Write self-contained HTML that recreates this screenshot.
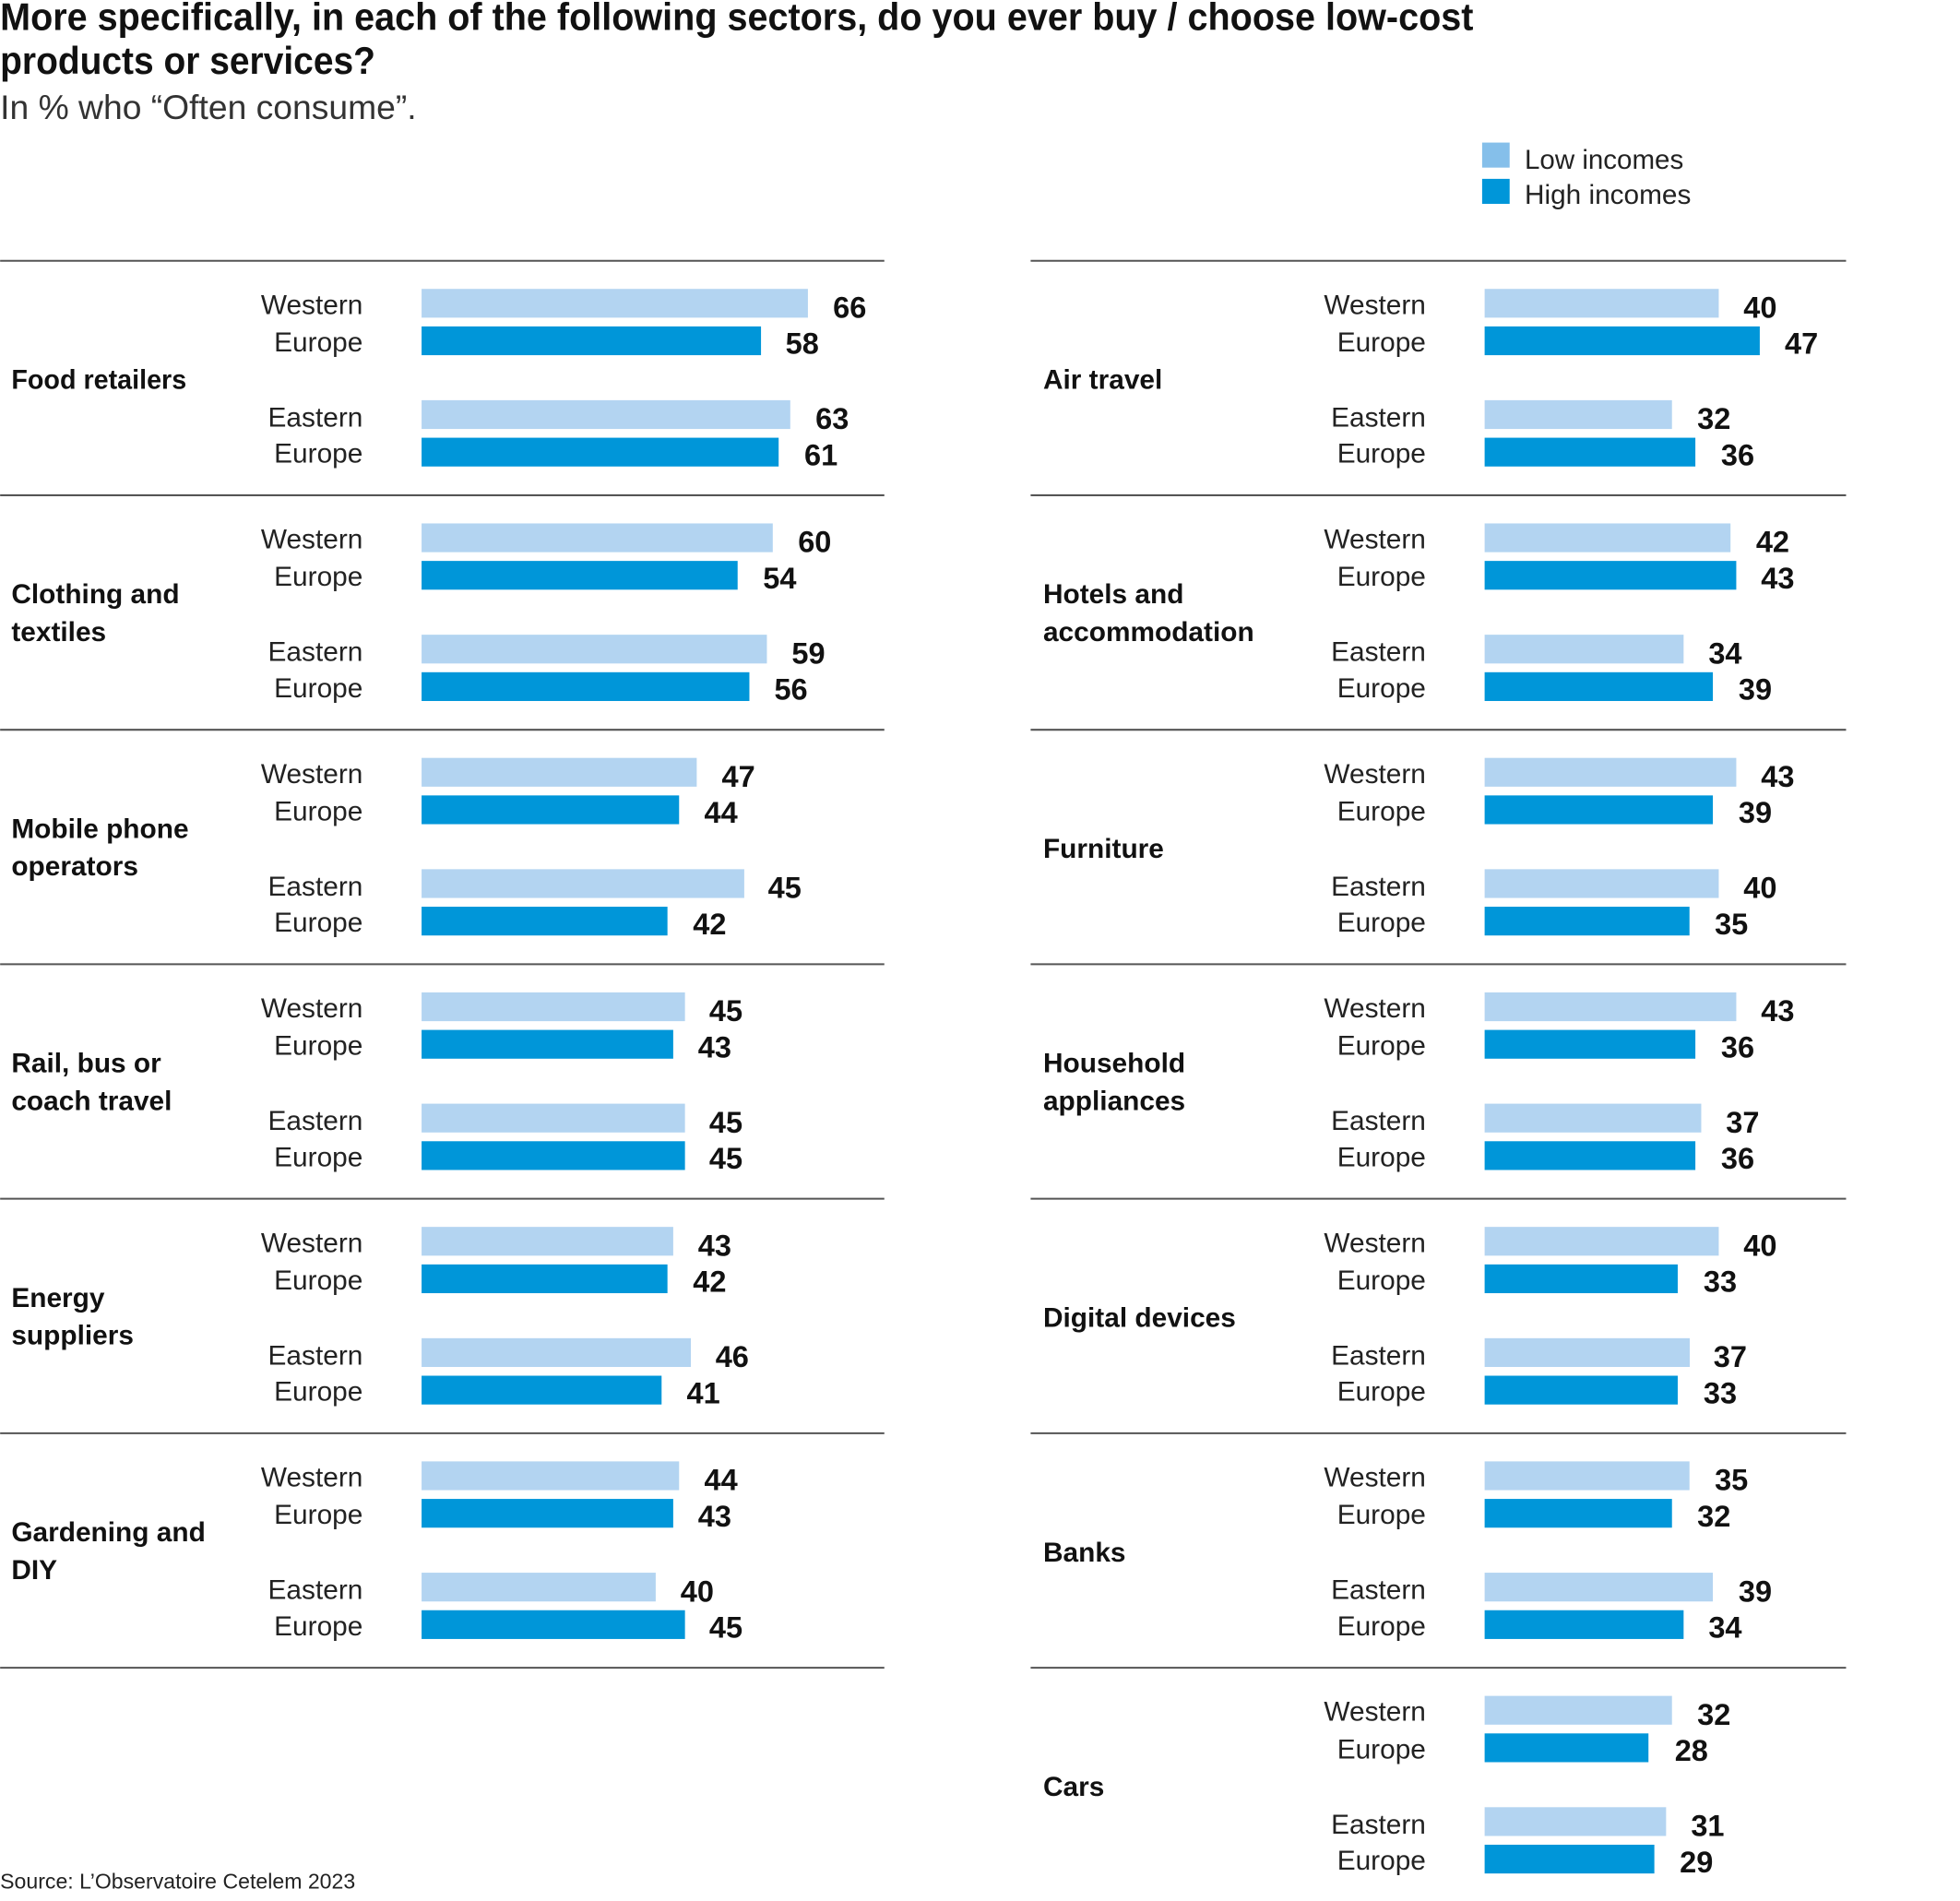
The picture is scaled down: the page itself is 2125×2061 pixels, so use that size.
<!DOCTYPE html>
<html><head><meta charset="utf-8"><style>
html,body{margin:0;padding:0;background:#fff;}
svg{display:block;}
text{font-family:"Liberation Sans Narrow","Liberation Sans",sans-serif;}
.l{font-size:22px;fill:#222;text-anchor:end;}
.v{font-size:24px;font-weight:bold;fill:#111;}
.c{font-size:22px;font-weight:bold;fill:#111;}
.a{fill:#b3d4f1;}.b{fill:#0096d9;}
.ln{stroke:#555;stroke-width:1.5;}
</style></head><body>
<svg width="2125" height="2061" viewBox="0 0 1567 1520" xmlns="http://www.w3.org/2000/svg">
<text x="0" y="24" font-size="31" font-weight="bold" fill="#111" textLength="1178" lengthAdjust="spacingAndGlyphs">More specifically, in each of the following sectors, do you ever buy / choose low-cost</text>
<text x="0" y="59" font-size="31" font-weight="bold" fill="#111" textLength="300" lengthAdjust="spacingAndGlyphs">products or services?</text>
<text x="0" y="95" font-size="27" fill="#333" textLength="333" lengthAdjust="spacingAndGlyphs">In % who “Often consume”.</text>
<rect x="1185" y="114" width="22" height="20" fill="#85bfea"/>
<rect x="1185" y="143" width="22" height="20" fill="#0096d9"/>
<text x="1219" y="135" font-size="22" fill="#222" textLength="127" lengthAdjust="spacingAndGlyphs">Low incomes</text>
<text x="1219" y="163" font-size="22" fill="#222" textLength="133" lengthAdjust="spacingAndGlyphs">High incomes</text>
<text x="0" y="1510" font-size="17" fill="#222" textLength="284" lengthAdjust="spacingAndGlyphs">Source: L’Observatoire Cetelem 2023</text>

<g class="ln">
<line x1="0" x2="707" y1="208.5" y2="208.5"/><line x1="0" x2="707" y1="396" y2="396"/><line x1="0" x2="707" y1="583.5" y2="583.5"/><line x1="0" x2="707" y1="771" y2="771"/><line x1="0" x2="707" y1="958.5" y2="958.5"/><line x1="0" x2="707" y1="1146" y2="1146"/><line x1="0" x2="707" y1="1333.5" y2="1333.5"/>
<line x1="824" x2="1476" y1="208.5" y2="208.5"/><line x1="824" x2="1476" y1="396" y2="396"/><line x1="824" x2="1476" y1="583.5" y2="583.5"/><line x1="824" x2="1476" y1="771" y2="771"/><line x1="824" x2="1476" y1="958.5" y2="958.5"/><line x1="824" x2="1476" y1="1146" y2="1146"/><line x1="824" x2="1476" y1="1333.5" y2="1333.5"/><line x1="824" x2="1476" y1="1521" y2="1521"/>
</g>

<g transform="translate(0,0)">
<text class="c" x="9" y="311" textLength="140" lengthAdjust="spacingAndGlyphs">Food retailers</text>
<text class="l" x="290" y="251">Western</text><text class="l" x="290" y="281">Europe</text><text class="l" x="290" y="341">Eastern</text><text class="l" x="290" y="370">Europe</text>
<rect class="a" x="337" y="231" width="308.9" height="23"/><rect class="b" x="337" y="261" width="271.4" height="23"/><rect class="a" x="337" y="320" width="294.8" height="23"/><rect class="b" x="337" y="350" width="285.5" height="23"/>
<text class="v" x="666" y="254">66</text><text class="v" x="628" y="283">58</text><text class="v" x="652" y="343">63</text><text class="v" x="643" y="372">61</text>
</g>
<g transform="translate(0,187.5)">
<text class="c" x="9" y="295">Clothing and</text><text class="c" x="9" y="325">textiles</text>
<text class="l" x="290" y="251">Western</text><text class="l" x="290" y="281">Europe</text><text class="l" x="290" y="341">Eastern</text><text class="l" x="290" y="370">Europe</text>
<rect class="a" x="337" y="231" width="280.8" height="23"/><rect class="b" x="337" y="261" width="252.7" height="23"/><rect class="a" x="337" y="320" width="276.1" height="23"/><rect class="b" x="337" y="350" width="262.1" height="23"/>
<text class="v" x="638" y="254">60</text><text class="v" x="610" y="283">54</text><text class="v" x="633" y="343">59</text><text class="v" x="619" y="372">56</text>
</g>
<g transform="translate(0,375)">
<text class="c" x="9" y="295">Mobile phone</text><text class="c" x="9" y="325">operators</text>
<text class="l" x="290" y="251">Western</text><text class="l" x="290" y="281">Europe</text><text class="l" x="290" y="341">Eastern</text><text class="l" x="290" y="370">Europe</text>
<rect class="a" x="337" y="231" width="220" height="23"/><rect class="b" x="337" y="261" width="205.9" height="23"/><rect class="a" x="337" y="320" width="258" height="23"/><rect class="b" x="337" y="350" width="196.6" height="23"/>
<text class="v" x="577" y="254">47</text><text class="v" x="563" y="283">44</text><text class="v" x="614" y="343">45</text><text class="v" x="554" y="372">42</text>
</g>
<g transform="translate(0,562.5)">
<text class="c" x="9" y="295">Rail, bus or</text><text class="c" x="9" y="325">coach travel</text>
<text class="l" x="290" y="251">Western</text><text class="l" x="290" y="281">Europe</text><text class="l" x="290" y="341">Eastern</text><text class="l" x="290" y="370">Europe</text>
<rect class="a" x="337" y="231" width="210.6" height="23"/><rect class="b" x="337" y="261" width="201.2" height="23"/><rect class="a" x="337" y="320" width="210.6" height="23"/><rect class="b" x="337" y="350" width="210.6" height="23"/>
<text class="v" x="567" y="254">45</text><text class="v" x="558" y="283">43</text><text class="v" x="567" y="343">45</text><text class="v" x="567" y="372">45</text>
</g>
<g transform="translate(0,750)">
<text class="c" x="9" y="295">Energy</text><text class="c" x="9" y="325">suppliers</text>
<text class="l" x="290" y="251">Western</text><text class="l" x="290" y="281">Europe</text><text class="l" x="290" y="341">Eastern</text><text class="l" x="290" y="370">Europe</text>
<rect class="a" x="337" y="231" width="201.2" height="23"/><rect class="b" x="337" y="261" width="196.6" height="23"/><rect class="a" x="337" y="320" width="215.3" height="23"/><rect class="b" x="337" y="350" width="191.9" height="23"/>
<text class="v" x="558" y="254">43</text><text class="v" x="554" y="283">42</text><text class="v" x="572" y="343">46</text><text class="v" x="549" y="372">41</text>
</g>
<g transform="translate(0,937.5)">
<text class="c" x="9" y="295">Gardening and</text><text class="c" x="9" y="325">DIY</text>
<text class="l" x="290" y="251">Western</text><text class="l" x="290" y="281">Europe</text><text class="l" x="290" y="341">Eastern</text><text class="l" x="290" y="370">Europe</text>
<rect class="a" x="337" y="231" width="205.9" height="23"/><rect class="b" x="337" y="261" width="201.2" height="23"/><rect class="a" x="337" y="320" width="187.2" height="23"/><rect class="b" x="337" y="350" width="210.6" height="23"/>
<text class="v" x="563" y="254">44</text><text class="v" x="558" y="283">43</text><text class="v" x="544" y="343">40</text><text class="v" x="567" y="372">45</text>
</g>

<g transform="translate(0,0)">
<text class="c" x="834" y="311">Air travel</text>
<text class="l" x="1140" y="251">Western</text><text class="l" x="1140" y="281">Europe</text><text class="l" x="1140" y="341">Eastern</text><text class="l" x="1140" y="370">Europe</text>
<rect class="a" x="1187" y="231" width="187.2" height="23"/><rect class="b" x="1187" y="261" width="220" height="23"/><rect class="a" x="1187" y="320" width="149.8" height="23"/><rect class="b" x="1187" y="350" width="168.5" height="23"/>
<text class="v" x="1394" y="254">40</text><text class="v" x="1427" y="283">47</text><text class="v" x="1357" y="343">32</text><text class="v" x="1376" y="372">36</text>
</g>
<g transform="translate(0,187.5)">
<text class="c" x="834" y="295">Hotels and</text><text class="c" x="834" y="325">accommodation</text>
<text class="l" x="1140" y="251">Western</text><text class="l" x="1140" y="281">Europe</text><text class="l" x="1140" y="341">Eastern</text><text class="l" x="1140" y="370">Europe</text>
<rect class="a" x="1187" y="231" width="196.6" height="23"/><rect class="b" x="1187" y="261" width="201.2" height="23"/><rect class="a" x="1187" y="320" width="159.1" height="23"/><rect class="b" x="1187" y="350" width="182.5" height="23"/>
<text class="v" x="1404" y="254">42</text><text class="v" x="1408" y="283">43</text><text class="v" x="1366" y="343">34</text><text class="v" x="1390" y="372">39</text>
</g>
<g transform="translate(0,375)">
<text class="c" x="834" y="311">Furniture</text>
<text class="l" x="1140" y="251">Western</text><text class="l" x="1140" y="281">Europe</text><text class="l" x="1140" y="341">Eastern</text><text class="l" x="1140" y="370">Europe</text>
<rect class="a" x="1187" y="231" width="201.2" height="23"/><rect class="b" x="1187" y="261" width="182.5" height="23"/><rect class="a" x="1187" y="320" width="187.2" height="23"/><rect class="b" x="1187" y="350" width="163.8" height="23"/>
<text class="v" x="1408" y="254">43</text><text class="v" x="1390" y="283">39</text><text class="v" x="1394" y="343">40</text><text class="v" x="1371" y="372">35</text>
</g>
<g transform="translate(0,562.5)">
<text class="c" x="834" y="295">Household</text><text class="c" x="834" y="325">appliances</text>
<text class="l" x="1140" y="251">Western</text><text class="l" x="1140" y="281">Europe</text><text class="l" x="1140" y="341">Eastern</text><text class="l" x="1140" y="370">Europe</text>
<rect class="a" x="1187" y="231" width="201.2" height="23"/><rect class="b" x="1187" y="261" width="168.5" height="23"/><rect class="a" x="1187" y="320" width="173.2" height="23"/><rect class="b" x="1187" y="350" width="168.5" height="23"/>
<text class="v" x="1408" y="254">43</text><text class="v" x="1376" y="283">36</text><text class="v" x="1380" y="343">37</text><text class="v" x="1376" y="372">36</text>
</g>
<g transform="translate(0,750)">
<text class="c" x="834" y="311">Digital devices</text>
<text class="l" x="1140" y="251">Western</text><text class="l" x="1140" y="281">Europe</text><text class="l" x="1140" y="341">Eastern</text><text class="l" x="1140" y="370">Europe</text>
<rect class="a" x="1187" y="231" width="187.2" height="23"/><rect class="b" x="1187" y="261" width="154.4" height="23"/><rect class="a" x="1187" y="320" width="164" height="23"/><rect class="b" x="1187" y="350" width="154.4" height="23"/>
<text class="v" x="1394" y="254">40</text><text class="v" x="1362" y="283">33</text><text class="v" x="1370" y="343">37</text><text class="v" x="1362" y="372">33</text>
</g>
<g transform="translate(0,937.5)">
<text class="c" x="834" y="311">Banks</text>
<text class="l" x="1140" y="251">Western</text><text class="l" x="1140" y="281">Europe</text><text class="l" x="1140" y="341">Eastern</text><text class="l" x="1140" y="370">Europe</text>
<rect class="a" x="1187" y="231" width="163.8" height="23"/><rect class="b" x="1187" y="261" width="149.8" height="23"/><rect class="a" x="1187" y="320" width="182.5" height="23"/><rect class="b" x="1187" y="350" width="159.1" height="23"/>
<text class="v" x="1371" y="254">35</text><text class="v" x="1357" y="283">32</text><text class="v" x="1390" y="343">39</text><text class="v" x="1366" y="372">34</text>
</g>
<g transform="translate(0,1125)">
<text class="c" x="834" y="311">Cars</text>
<text class="l" x="1140" y="251">Western</text><text class="l" x="1140" y="281">Europe</text><text class="l" x="1140" y="341">Eastern</text><text class="l" x="1140" y="370">Europe</text>
<rect class="a" x="1187" y="231" width="149.8" height="23"/><rect class="b" x="1187" y="261" width="131" height="23"/><rect class="a" x="1187" y="320" width="145.1" height="23"/><rect class="b" x="1187" y="350" width="135.7" height="23"/>
<text class="v" x="1357" y="254">32</text><text class="v" x="1339" y="283">28</text><text class="v" x="1352" y="343">31</text><text class="v" x="1343" y="372">29</text>
</g>
</svg>
</body></html>
